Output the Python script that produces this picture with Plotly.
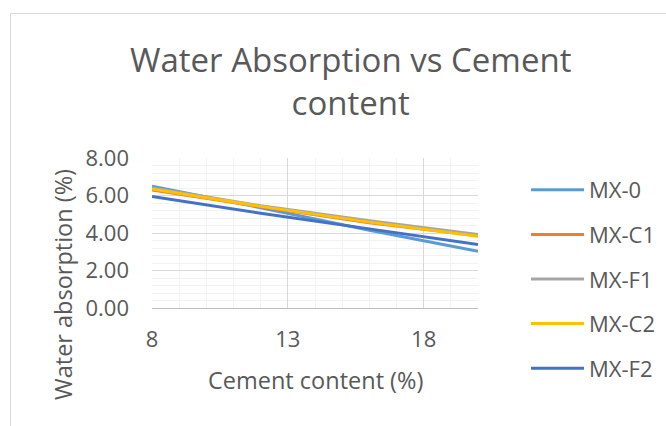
import plotly.graph_objects as go

cement = [8, 12, 16, 20]
mx_0 = [6.50, 5.35, 4.15, 3.03]
mx_c1 = [6.30, 5.40, 4.55, 3.85]
mx_f1 = [6.40, 5.45, 4.65, 3.92]
mx_c2 = [6.35, 5.42, 4.58, 3.82]
mx_f2 = [5.95, 5.05, 4.22, 3.38]

series_names = ["MX-0", "MX-C1", "MX-F1", "MX-C2", "MX-F2"]
series_values = [mx_0, mx_c1, mx_f1, mx_c2, mx_f2]
colors = ["#5B9BD5", "#ED7D31", "#A5A5A5", "#FFC000", "#4472C4"]

FONT = "Open Sans"
TXT = "#595959"

W, H = 666, 426
L, R, T, B = 152, 478, 158, 308

fig = go.Figure()
for name, vals, col in zip(series_names, series_values, colors):
    fig.add_trace(go.Scatter(x=cement, y=vals, name=name, mode="lines",
                             line=dict(color=col, width=3), legendgroup=name))

def px_x(p):
    return (p - L) / (R - L)

def px_y(p):
    return (B - p) / (B - T)

fig.update_layout(
    width=W, height=H,
    margin=dict(l=L, r=W - R, t=T, b=H - B, autoexpand=False),
    paper_bgcolor="white", plot_bgcolor="white",
    font=dict(family=FONT, color=TXT, size=22),
    showlegend=True,
    legend=dict(x=px_x(526), y=px_y(169), xanchor="left", yanchor="top",
                font=dict(size=22, color=TXT), itemwidth=53,
                tracegroupgap=13, bgcolor="rgba(0,0,0,0)", maxheight=420),
    xaxis=dict(range=[8, 20], tick0=8, dtick=5, showgrid=True,
               gridcolor="#D9D9D9", gridwidth=1,
               minor=dict(dtick=1, showgrid=True, gridcolor="#F2F2F2", gridwidth=1),
               showline=True, linecolor="#BFBFBF", linewidth=1,
               ticks="", tickfont=dict(size=22, color=TXT), zeroline=False,
               ticklabelstandoff=12),
    yaxis=dict(range=[0, 8], dtick=2, tickformat=".2f", showgrid=True,
               gridcolor="#D9D9D9", gridwidth=1,
               minor=dict(dtick=0.4, showgrid=True, gridcolor="#F2F2F2", gridwidth=1),
               showline=False, ticks="", tickfont=dict(size=22, color=TXT),
               zeroline=False, ticklabelstandoff=22),
)

fig.add_annotation(text="Water Absorption vs Cement<br>content", xref="paper", yref="paper",
                   x=px_x(350), y=px_y(81), xanchor="center", yanchor="middle",
                   showarrow=False, font=dict(size=33, color=TXT, family=FONT))
fig.add_annotation(text="Cement content (%)", xref="paper", yref="paper",
                   x=px_x(315), y=px_y(380), xanchor="center", yanchor="middle",
                   showarrow=False, font=dict(size=23.5, color=TXT, family=FONT))
fig.add_annotation(text="Water absorption (%)", xref="paper", yref="paper",
                   x=px_x(63), y=px_y(285), xanchor="center", yanchor="middle",
                   textangle=-90, showarrow=False,
                   font=dict(size=23.5, color=TXT, family=FONT))

fig.add_shape(type="rect", xref="paper", yref="paper",
              x0=px_x(10.5), y0=px_y(440), x1=px_x(680), y1=px_y(13.5),
              line=dict(color="#D9D9D9", width=1), fillcolor="rgba(0,0,0,0)",
              layer="below")

fig.write_html("out.html", config={"displayModeBar": False},
               post_script="document.body.style.margin='0px';")
